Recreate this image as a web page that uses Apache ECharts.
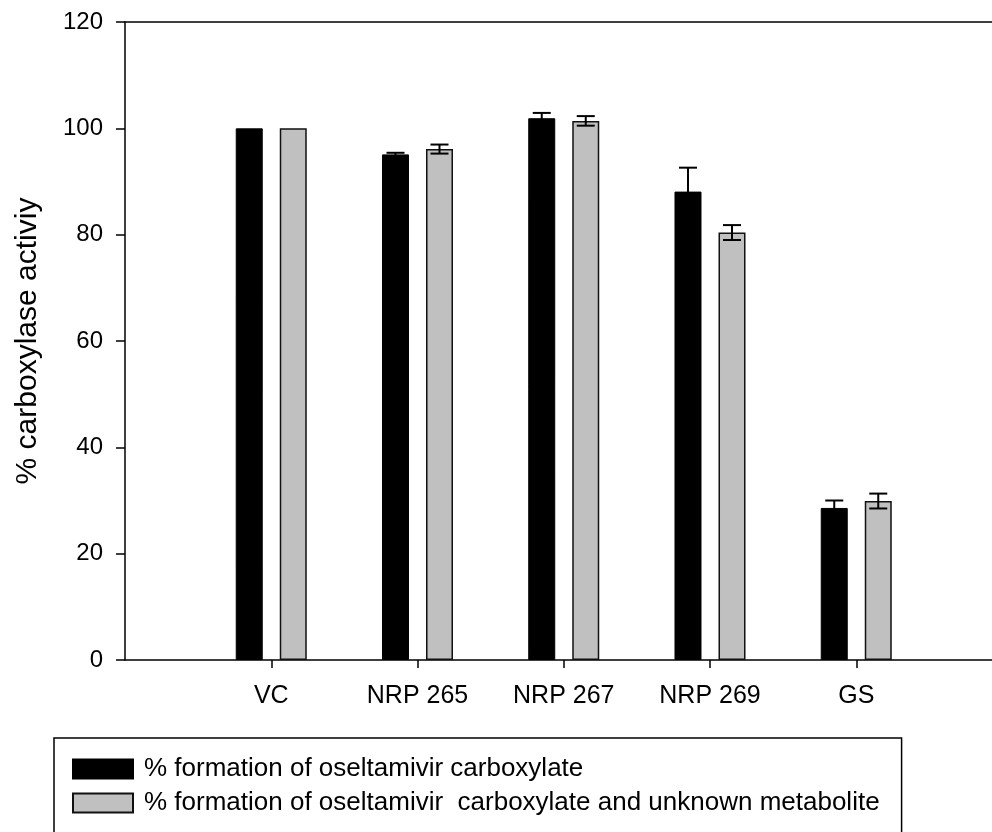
<!DOCTYPE html>
<html>
<head>
<meta charset="utf-8">
<script src="https://cdn.jsdelivr.net/npm/echarts@6/dist/echarts.min.js"></script>
<style>
  html, body { margin: 0; padding: 0; background: #fff; }
  #chart { width: 992px; height: 832px; }
</style>
</head>
<body>
<div id="chart"></div>
<script>
  var categories = ['VC', 'NRP 265', 'NRP 267', 'NRP 269', 'GS'];
  var carboxylate = [100, 95.1, 101.9, 88.1, 28.6];
  var carboxylateErr = [0, 0.3, 1.0, 4.5, 1.4];
  var withMetabolite = [100, 96.1, 101.4, 80.4, 29.9];
  var withMetaboliteErr = [0, 0.85, 0.9, 1.4, 1.4];
  var yTicks = [0, 20, 40, 60, 80, 100, 120];

  var nameA = '% formation of oseltamivir carboxylate';
  var nameB = '% formation of oseltamivir  carboxylate and unknown metabolite';

  // empty slot before the first group and two after, so the axis runs past the right edge
  var axisData = [''].concat(categories, ['', '']);
  function pad(arr) {
    return ['-'].concat(arr, ['-', '-']);
  }
  function errItems(vals, errs) {
    return vals.map(function (v, i) { return [i + 1, v, errs[i]]; });
  }

  var font = 'Liberation Sans, Arial, sans-serif';

  function errorBar(offset) {
    return function (params, api) {
      var x = api.value(0), v = api.value(1), e = api.value(2);
      if (!e) return null;
      var hi = api.coord([x, v + e]);
      var lo = api.coord([x, v - e]);
      var cx = hi[0] + offset;
      var st = { stroke: '#000', lineWidth: 2 };
      return {
        type: 'group',
        children: [
          { type: 'line', shape: { x1: cx, y1: hi[1], x2: cx, y2: lo[1] }, style: st },
          { type: 'line', shape: { x1: cx - 9, y1: hi[1], x2: cx + 9, y2: hi[1] }, style: st },
          { type: 'line', shape: { x1: cx - 9, y1: lo[1], x2: cx + 9, y2: lo[1] }, style: st }
        ]
      };
    };
  }

  var myChart = echarts.init(document.getElementById('chart'));
  var options = {
    animation: false,
    backgroundColor: '#fff',
    grid: {
      left: 125,
      top: 22,
      height: 638,
      width: 1023.75,
      containLabel: false,
      outerBoundsMode: 'none'
    },
    legend: {
      data: [nameA, nameB],
      orient: 'vertical',
      left: 54,
      top: 738,
      height: 200,
      padding: [18, 22, 50, 18],
      borderColor: '#000',
      borderWidth: 1.5,
      itemWidth: 60,
      itemHeight: 19,
      itemGap: 8,
      icon: 'rect',
      selectedMode: false,
      textStyle: {
        fontFamily: font,
        fontSize: 26,
        color: '#000',
        padding: [0, 0, 0, 6]
      }
    },
    xAxis: [{
      type: 'category',
      data: axisData,
      boundaryGap: false,
      axisLine: { lineStyle: { color: '#000', width: 1.5 } },
      axisTick: {
        length: 8,
        lineStyle: { color: '#000', width: 1.5 },
        interval: function (index) { return index > 0; }
      },
      axisLabel: {
        interval: 0,
        margin: 24,
        fontFamily: font,
        fontSize: 25,
        color: '#000'
      },
      splitLine: { show: false }
    }, {
      type: 'category',
      data: axisData,
      position: 'top',
      boundaryGap: false,
      axisLine: { lineStyle: { color: '#000', width: 1.5 } },
      axisTick: { show: false },
      axisLabel: { show: false },
      splitLine: { show: false }
    }],
    yAxis: {
      type: 'value',
      min: yTicks[0],
      max: yTicks[yTicks.length - 1],
      interval: 20,
      name: '% carboxylase activiy',
      nameLocation: 'middle',
      nameRotate: 90,
      nameGap: 82,
      nameTextStyle: { fontFamily: font, fontSize: 30, color: '#000' },
      axisLine: { show: true, lineStyle: { color: '#000', width: 1.5 } },
      axisTick: { show: true, length: 9, lineStyle: { color: '#000', width: 1.5 } },
      axisLabel: { margin: 22, fontFamily: font, fontSize: 24, color: '#000' },
      splitLine: { show: false }
    },
    series: [{
      name: nameA,
      type: 'bar',
      data: pad(carboxylate),
      barWidth: 27,
      barGap: '63%',
      itemStyle: { color: '#000', borderColor: '#000', borderWidth: 1 }
    }, {
      name: nameB,
      type: 'bar',
      data: pad(withMetabolite),
      barWidth: 27,
      barGap: '63%',
      itemStyle: { color: '#c0c0c0', borderColor: '#111', borderWidth: 1.5 }
    }, {
      type: 'custom',
      renderItem: errorBar(-22),
      data: errItems(carboxylate, carboxylateErr),
      z: 5
    }, {
      type: 'custom',
      renderItem: errorBar(22),
      data: errItems(withMetabolite, withMetaboliteErr),
      z: 5
    }]
  };
  myChart.setOption(options);
</script>
</body>
</html>
